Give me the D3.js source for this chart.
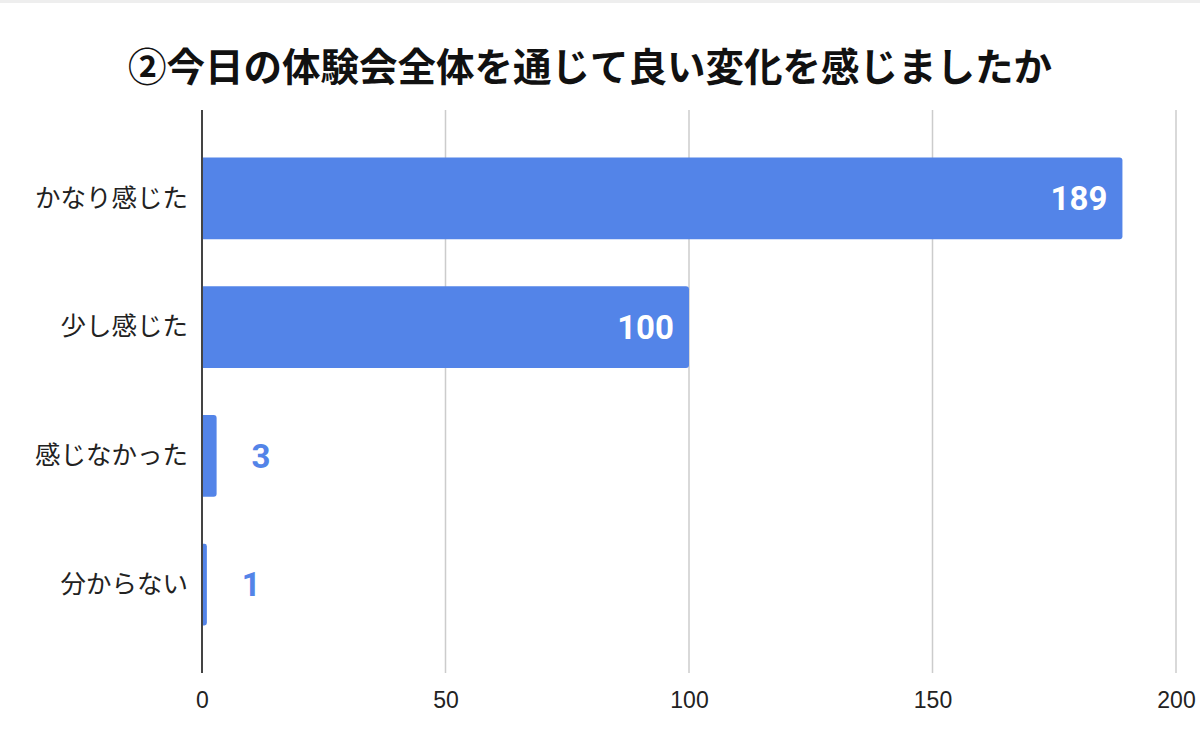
<!DOCTYPE html>
<html>
<head>
<meta charset="utf-8">
<script src="https://cdn.jsdelivr.net/npm/d3@7"></script>
<style>
  body { margin: 0; background: #fff; }
</style>
</head>
<body>
<div id="mainDiv"></div>
<script>
'use strict';

var categories = ['かなり感じた', '少し感じた', '感じなかった', '分からない'];
var values = [189, 100, 3, 1];
var xTicks = [0, 50, 100, 150, 200];
var titleText = '②今日の体験会全体を通じて良い変化を感じましたか';

var W = 1200, H = 743;
var margin = { top: 110, left: 202, right: 24, bottom: 70 };
var innerW = 1176 - margin.left;
var innerH = 673 - margin.top;
var barColor = '#5384e8';

var svg = d3.select('#mainDiv').append('svg')
    .attr('width', W)
    .attr('height', H);

svg.append('rect')
    .attr('width', W).attr('height', 3)
    .attr('fill', '#eeeeee');

svg.append('text')
    .attr('x', 590)
    .attr('y', 81)
    .attr('text-anchor', 'middle')
    .attr('font-family', '"Noto Sans CJK JP", sans-serif')
    .attr('font-weight', 'bold')
    .attr('font-size', 38.5)
    .attr('fill', '#111')
    .text(titleText);

var chart = svg.append('g')
    .attr('transform', 'translate(' + margin.left + ',' + margin.top + ')');

var xScale = d3.scaleLinear().domain([0, 200]).range([0, innerW]);
var yScale = d3.scaleBand().domain(categories).range([0, innerH])
    .paddingInner(0.366).paddingOuter(0.37);

// gridlines
chart.selectAll('.grid')
    .data(xTicks.slice(1))
    .enter().append('line')
    .attr('class', 'grid')
    .attr('x1', function(d){ return xScale(d); })
    .attr('x2', function(d){ return xScale(d); })
    .attr('y1', 0).attr('y2', innerH)
    .attr('stroke', '#cccccc')
    .attr('stroke-width', 1.5);

// x axis labels
var xAxis = d3.axisBottom(xScale).tickValues(xTicks).tickSize(0).tickPadding(19);
var xg = chart.append('g')
    .attr('transform', 'translate(0,' + innerH + ')')
    .call(xAxis);
xg.select('.domain').remove();
xg.selectAll('text')
    .attr('font-family', '"Liberation Sans", Arial, sans-serif')
    .attr('font-size', 23)
    .attr('fill', '#222');

// bars, rounded on the right end
var r = 3;
chart.selectAll('.bar')
    .data(values)
    .enter().append('path')
    .attr('class', 'bar')
    .attr('fill', barColor)
    .attr('d', function(d, i) {
        var y0 = yScale(categories[i]), h = yScale.bandwidth();
        var w = xScale(d);
        var rr = Math.min(r, w / 2);
        return 'M0,' + y0 + 'H' + (w - rr) +
            'Q' + w + ',' + y0 + ' ' + w + ',' + (y0 + rr) +
            'V' + (y0 + h - rr) +
            'Q' + w + ',' + (y0 + h) + ' ' + (w - rr) + ',' + (y0 + h) +
            'H0Z';
    });

// y axis line
chart.append('line')
    .attr('x1', 0).attr('x2', 0)
    .attr('y1', 0).attr('y2', innerH)
    .attr('stroke', '#444')
    .attr('stroke-width', 2);

// category labels
var yAxis = d3.axisLeft(yScale).tickSize(0).tickPadding(14);
var yg = chart.append('g').call(yAxis);
yg.select('.domain').remove();
yg.selectAll('text')
    .attr('font-family', '"Noto Sans CJK JP", sans-serif')
    .attr('font-size', 25.5)
    .attr('fill', '#222');

// value labels
chart.selectAll('.val')
    .data(values)
    .enter().append('text')
    .attr('class', 'val')
    .attr('x', function(d){ return d > 20 ? xScale(d) - 15 : xScale(d) + 35; })
    .attr('y', function(d, i){ return yScale(categories[i]) + yScale.bandwidth() / 2; })
    .attr('dy', '0.36em')
    .attr('text-anchor', function(d){ return d > 20 ? 'end' : 'start'; })
    .attr('font-family', 'Roboto, sans-serif')
    .attr('font-weight', 'bold')
    .attr('font-size', 33)
    .attr('fill', function(d){ return d > 20 ? '#fff' : barColor; })
    .text(function(d){ return d; });
</script>
</body>
</html>
